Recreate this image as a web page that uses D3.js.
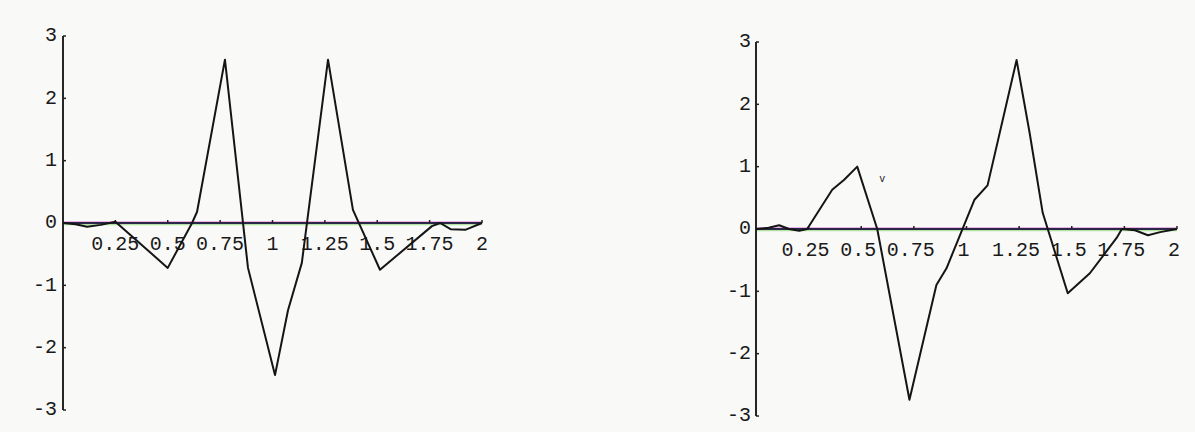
<!DOCTYPE html>
<html>
<head>
<meta charset="utf-8">
<script src="https://cdn.jsdelivr.net/npm/d3@7"></script>
<style>
  html, body { margin: 0; padding: 0; background: #f9f9f8; }
  svg { display: block; }
  text { font-family: "Liberation Mono", "DejaVu Sans Mono", monospace; fill: #1a1a1a; }
</style>
</head>
<body>
<svg id="chart" width="1195" height="432"></svg>
<script>
// ---- data ----
const xTicks = [0.25, 0.5, 0.75, 1, 1.25, 1.5, 1.75, 2];
const xTickLabels = ["0.25", "0.5", "0.75", "1", "1.25", "1.5", "1.75", "2"];
const yTicks = [-3, -2, -1, 0, 1, 2, 3];
const yTickLabels = ["-3", "-2", "-1", "0", "1", "2", "3"];

const leftX = [0, 0.06, 0.115, 0.18, 0.25, 0.5, 0.616, 0.64, 0.773, 0.883, 1.012, 1.074, 1.14, 1.265, 1.384, 1.513, 1.761, 1.8, 1.85, 1.92, 2.0];
const leftY = [0, -0.02, -0.06, -0.03, 0.02, -0.72, 0, 0.18, 2.62, -0.72, -2.44, -1.40, -0.64, 2.62, 0.21, -0.75, -0.05, 0, -0.10, -0.11, 0];

const rightX = [0, 0.06, 0.11, 0.157, 0.205, 0.243, 0.362, 0.419, 0.481, 0.576, 0.729, 0.857, 0.905, 1.038, 1.1, 1.238, 1.3, 1.362, 1.481, 1.586, 1.714, 1.738, 1.8, 1.862, 1.92, 2.0];
const rightY = [0, 0.02, 0.06, 0, -0.03, 0, 0.63, 0.79, 1.0, 0, -2.74, -0.9, -0.63, 0.47, 0.7, 2.71, 1.54, 0.26, -1.03, -0.71, -0.14, 0, -0.02, -0.10, -0.05, 0];

const panels = [
  { xs: leftX, ys: leftY, x0: 63, x1: 482, yTop: 36, yBot: 410, labOff: 6, labShift: 0 },
  { xs: rightX, ys: rightY, x0: 756, x1: 1177, yTop: 42, yBot: 416, labOff: 5, labShift: -3 }
];

const svg = d3.select("#chart");

panels.forEach((p, i) => {
  const x = d3.scaleLinear().domain([0, 2]).range([p.x0, p.x1]);
  const y = d3.scaleLinear().domain([-3, 3]).range([p.yBot, p.yTop]);
  const g = svg.append("g");
  const y0 = y(0);

  // x-axis (scanned double-tint look)
  g.append("line").attr("x1", p.x0).attr("x2", p.x1).attr("y1", y0 + 1.6).attr("y2", y0 + 1.6)
    .attr("stroke", "#9fe08a").attr("stroke-width", 1.2).attr("opacity", 0.8);
  g.append("line").attr("x1", p.x0).attr("x2", p.x1).attr("y1", y0 - 1.4).attr("y2", y0 - 1.4)
    .attr("stroke", "#e7a0e0").attr("stroke-width", 1.2).attr("opacity", 0.8);
  g.append("line").attr("x1", p.x0).attr("x2", p.x1).attr("y1", y0).attr("y2", y0)
    .attr("stroke", "#2a2748").attr("stroke-width", 2);

  // x ticks (small marks above the axis)
  g.selectAll(".xt").data(xTicks).enter().append("line")
    .attr("x1", d => x(d)).attr("x2", d => x(d))
    .attr("y1", y0).attr("y2", y0 - 3)
    .attr("stroke", "#222").attr("stroke-width", 1.5);

  // x tick labels
  g.selectAll(".xl").data(xTicks).enter().append("text")
    .attr("x", d => x(d) + p.labShift)
    .attr("y", y0 + 22)
    .attr("text-anchor", "middle")
    .attr("dominant-baseline", "middle")
    .attr("font-size", 20)
    .text((d, k) => xTickLabels[k]);

  // y axis
  g.append("line").attr("x1", p.x0).attr("x2", p.x0).attr("y1", p.yTop).attr("y2", p.yBot)
    .attr("stroke", "#1c1c1c").attr("stroke-width", 1.9);
  g.selectAll(".yt").data(yTicks).enter().append("line")
    .attr("x1", p.x0).attr("x2", p.x0 + 3)
    .attr("y1", d => y(d)).attr("y2", d => y(d))
    .attr("stroke", "#222").attr("stroke-width", 1.5);
  g.selectAll(".yl").data(yTicks).enter().append("text")
    .attr("x", p.x0 - p.labOff)
    .attr("y", d => y(d))
    .attr("text-anchor", "end")
    .attr("dominant-baseline", "middle")
    .attr("font-size", 20)
    .text((d, k) => yTickLabels[k]);

  // curve
  const pts = p.xs.map((v, k) => [v, p.ys[k]]);
  g.append("path")
    .datum(pts)
    .attr("fill", "none")
    .attr("stroke", "#151515")
    .attr("stroke-width", 2)
    .attr("stroke-linejoin", "round")
    .attr("d", d3.line().x(d => x(d[0])).y(d => y(d[1])));

  if (i === 1) {
    // stray mark on the scan
    g.append("text").attr("x", x(0.6)).attr("y", y(0.75))
      .attr("font-size", 10).attr("text-anchor", "middle").text("v");
  }
});
</script>
</body>
</html>
